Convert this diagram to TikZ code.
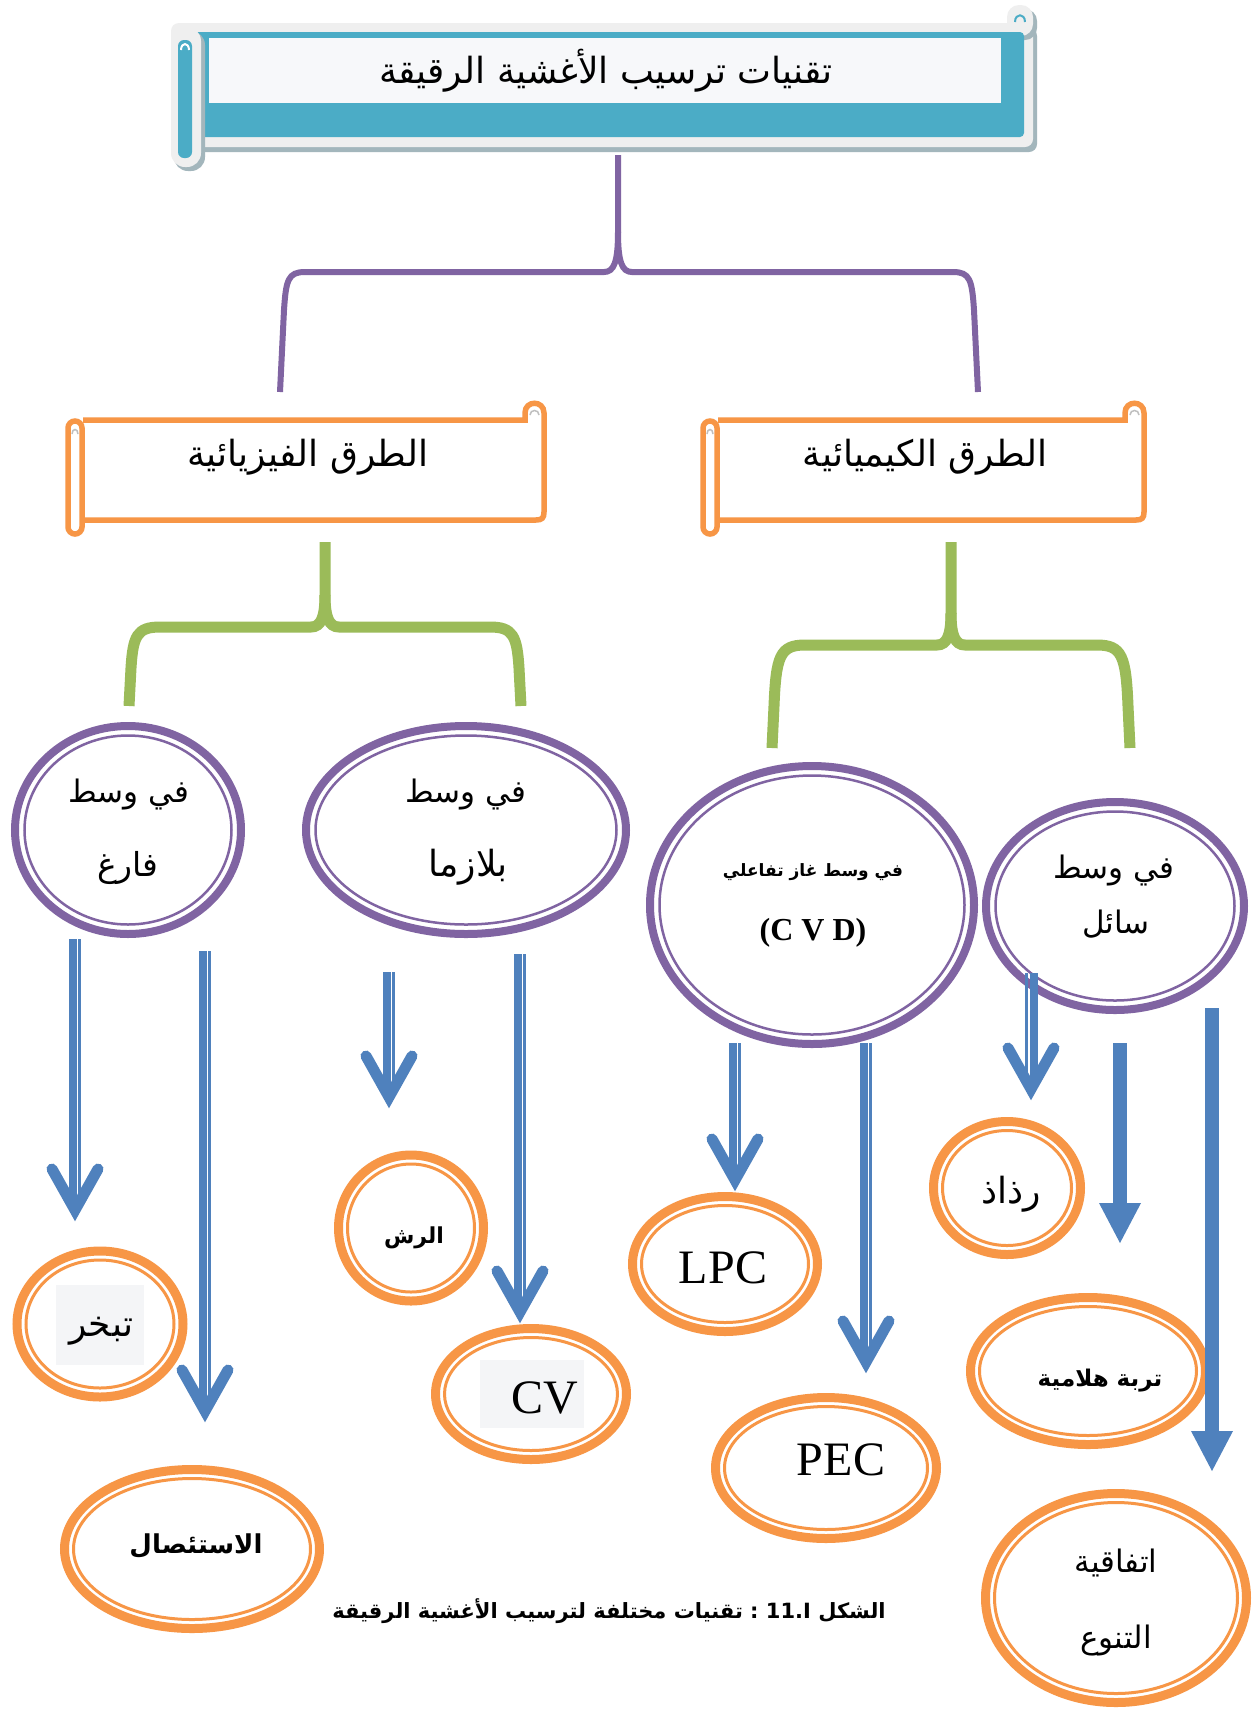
\documentclass[tikz,border=0pt]{standalone}
\usepackage{fontspec}
\usetikzlibrary{shapes.geometric}
\setmainfont{Liberation Serif}
\newfontfamily\arf[Script=Arabic]{DejaVu Sans}
\TeXXeTstate=1
\definecolor{purp}{HTML}{8064A2}
\definecolor{orng}{HTML}{F79646}
\definecolor{blu}{HTML}{4F81BD}
\definecolor{grn}{HTML}{9BBB59}
\definecolor{tealc}{HTML}{4BACC6}
\definecolor{lightc}{HTML}{EFEFEF}
\definecolor{shadc}{HTML}{A3B6BC}
\definecolor{innerw}{HTML}{F7F8FA}
\definecolor{boxg}{HTML}{F4F5F7}
\definecolor{curlg}{HTML}{BFBFBF}
\newcommand\pring[5]{%
  \node[pell, minimum width={2*#4 pt}, minimum height={2*#5 pt}] (#1) at (#2,#3) {};
  \draw[purp, line width=2.5pt] (#1.center) ellipse [x radius={#4pt-9.5pt}, y radius={#5pt-9.5pt}];}
\newcommand\oring[5]{%
  \node[oell, minimum width={2*#4 pt}, minimum height={2*#5 pt}] (#1) at (#2,#3) {};
  \draw[orng, line width=3pt] (#1.center) ellipse [x radius={#4pt-9pt}, y radius={#5pt-9pt}];}
\newcommand\dblarrow[4]{%
  \draw[blu, line width=8pt] ([xshift=#3pt]#1) -- ([shift={(#3pt,14pt)}]#2);
  \draw[blu, line width=3pt] ([xshift=#4pt]#1) -- ([shift={(#4pt,14pt)}]#2);
  \draw[chev] ([shift={(-23pt,53pt)}]#2) -- ([yshift=12pt]#2) -- ([shift={(23pt,53pt)}]#2);}
\newcommand\solarrow[2]{%
  \draw[blu, line width=14pt] (#1) -- ([yshift=38pt]#2);
  \fill[blu] ([shift={(-21pt,40pt)}]#2) -- (#2) -- ([shift={(21pt,40pt)}]#2) -- cycle;}
\begin{document}
\begin{tikzpicture}[x=1pt,y=-1pt,
  pell/.style={ellipse, draw=purp, line width=8pt, inner sep=0pt},
  oell/.style={ellipse, draw=orng, line width=9pt, inner sep=0pt},
  chev/.style={draw=blu, line width=11pt, line cap=round, line join=miter},
  oline/.style={draw=orng, line width=5.5pt},
  pbrace/.style={draw=purp, line width=6pt},
  gbrace/.style={draw=grn, line width=11pt},
  tx/.style={font={\arf\fontsize{#1}{#1}\selectfont}, anchor=base, inner sep=0pt},
  txb/.style={font={\arf\fontsize{#1}{#1}\selectfont\bfseries}, anchor=base, inner sep=0pt},
  lt/.style={font={\fontsize{#1}{#1}\selectfont}, anchor=base, inner sep=0pt}]
\useasboundingbox (0,0) rectangle (1253,1709);
\fill[white] (0,0) rectangle (1253,1709);

% ---------- title scroll ----------
\fill[shadc, rounded corners=8pt] (175,28) rectangle (1037,152);
\fill[lightc, rounded corners=8pt] (171,23) rectangle (1033,147);
\fill[shadc, rounded corners=12pt] (1010,9) rectangle (1037,40);
\fill[lightc, rounded corners=12pt] (1007,5) rectangle (1033,36);
\fill[tealc, rounded corners=4pt] (194,32) rectangle (1024,137);
\fill[shadc, rounded corners=14pt] (174,31) rectangle (205,171);
\fill[lightc, rounded corners=14pt] (171,27) rectangle (201,167);
\fill[tealc, rounded corners=6pt] (178,40) rectangle (192,158);
\draw[white, line width=2pt] (181,50) .. controls (181,42) and (189,42) .. (189,50);
\draw[tealc, line width=2pt] (1015,22) .. controls (1015,13) and (1025,13) .. (1025,22);
\fill[innerw] (209,38) rectangle (1001,103);
\node[tx=36] (title) at (606,83) {\beginR تقنيات ترسيب الأغشية الرقيقة\endR};

% ---------- orange scrolls ----------
\draw[oline] (83,420) -- (525,420) -- (525,413) .. controls (525,400) and (544,400) .. (544,413) -- (544,512) .. controls (544,518) and (542,520) .. (536,520) -- (83,520);
\draw[oline, fill=white, rounded corners=7pt] (68,421) rectangle (82,534);
\draw[curlg, line width=1.5pt] (72,434) .. controls (72,428) and (78,428) .. (78,434);
\draw[curlg, line width=1.5pt] (530,415) .. controls (530,409) and (539,409) .. (539,415);
\node[tx=36] (phys) at (308,466) {\beginR الطرق الفيزيائية\endR};

\draw[oline] (718,420) -- (1125,420) -- (1125,413) .. controls (1125,400) and (1144,400) .. (1144,413) -- (1144,512) .. controls (1144,518) and (1142,520) .. (1136,520) -- (718,520);
\draw[oline, fill=white, rounded corners=7pt] (703,421) rectangle (717,534);
\draw[curlg, line width=1.5pt] (707,434) .. controls (707,428) and (713,428) .. (713,434);
\draw[curlg, line width=1.5pt] (1130,415) .. controls (1130,409) and (1139,409) .. (1139,415);
\node[tx=36] (chem) at (925,466) {\beginR الطرق الكيميائية\endR};

% ---------- braces ----------
\coordinate (pt0) at (618,155);
\coordinate (pL) at (280,392);
\coordinate (pR) at (978,392);
\draw[pbrace] (pL) -- (284,310) .. controls (286,280) and (288,272) .. (305,272) -- (604,272) .. controls (614,272) and (618,262) .. (618,232) -- (pt0);
\draw[pbrace] (pR) -- (974,310) .. controls (972,280) and (970,272) .. (953,272) -- (632,272) .. controls (622,272) and (618,262) .. (618,232);

\coordinate (g1t) at (325,542);
\coordinate (g1L) at (129,706);
\coordinate (g1R) at (521,706);
\draw[gbrace] (g1L) -- (131,668) .. controls (133,636) and (137,627) .. (160,627) -- (311,627) .. controls (321,627) and (325,617) .. (325,595) -- (g1t);
\draw[gbrace] (g1R) -- (519,668) .. controls (517,636) and (513,627) .. (490,627) -- (339,627) .. controls (329,627) and (325,617) .. (325,595);

\coordinate (g2t) at (951,542);
\coordinate (g2L) at (772,748);
\coordinate (g2R) at (1130,748);
\draw[gbrace] (g2L) -- (774,706) .. controls (776,656) and (780,645) .. (805,645) -- (937,645) .. controls (947,645) and (951,635) .. (951,613) -- (g2t);
\draw[gbrace] (g2R) -- (1128,706) .. controls (1126,656) and (1122,645) .. (1097,645) -- (965,645) .. controls (955,645) and (951,635) .. (951,613);

% ---------- purple ellipses ----------
\pring{vac}{128}{830}{113}{104}
\pring{pla}{466}{830}{160}{104}
\pring{cvd}{812}{905}{162}{139}
\pring{liq}{1115}{906}{129}{104}
\node[tx=31] (vac1) at (129,802) {\beginR في وسط\endR};
\node[tx=33] (vac2) at (128,876) {\beginR فارغ\endR};
\node[tx=31] (pla1) at (466,802) {\beginR في وسط\endR};
\node[tx=36] (pla2) at (468,876) {\beginR بلازما\endR};
\node[txb=17] (cvd1) at (813,876) {\beginR في وسط غاز تفاعلي\endR};
\node[lt=32, font={\fontsize{32}{32}\selectfont\bfseries}] (cvd2) at (813,940) {(C V D)};
\node[tx=31] (liq1) at (1114,878) {\beginR في وسط\endR};
\node[tx=31] (liq2) at (1116,933) {\beginR سائل\endR};

% ---------- orange ellipses ----------
\oring{evap}{100}{1324}{83}{73}
\oring{abl}{192}{1549}{127.5}{79.5}
\oring{spr}{411}{1228}{72.5}{73}
\oring{cvo}{531}{1394}{95.5}{65.5}
\oring{lpc}{725}{1264}{92.5}{67.5}
\oring{pec}{826}{1468}{110.5}{70.5}
\oring{mist}{1007}{1188}{73.5}{66.5}
\oring{gel}{1088}{1371}{117.5}{73.5}
\oring{epi}{1116}{1598}{130.5}{104.5}
\fill[boxg] (56,1285) rectangle (144,1365);
\fill[boxg] (480,1360) rectangle (584,1428);
\node[tx=36] (evapt) at (101,1336) {\beginR تبخر\endR};
\node[txb=26] (ablt) at (196,1553) {\beginR الاستئصال\endR};
\node[txb=22] (sprt) at (414,1243) {\beginR الرش\endR};
\node[lt=48] (cvt) at (545,1413) {CV};
\node[lt=48] (lpct) at (723,1283) {LPC};
\node[lt=48] (pect) at (841,1475) {PEC};
\node[tx=36] (mistt) at (1011,1203) {\beginR رذاذ\endR};
\node[txb=23] (gelt) at (1100,1386) {\beginR تربة هلامية\endR};
\node[tx=31] (epi1) at (1116,1572) {\beginR اتفاقية\endR};
\node[tx=31] (epi2) at (1116,1648) {\beginR التنوع\endR};

% ---------- arrows ----------
\coordinate (a1s) at (75,939);   \coordinate (a1e) at (75,1222);
\coordinate (a2s) at (205,951);  \coordinate (a2e) at (205,1423);
\coordinate (a3s) at (389,972);  \coordinate (a3e) at (389,1109);
\coordinate (a4s) at (520,954);  \coordinate (a4e) at (520,1324);
\coordinate (a5s) at (735,1043); \coordinate (a5e) at (735,1192);
\coordinate (a6s) at (866,1043); \coordinate (a6e) at (866,1374);
\coordinate (a7s) at (1031,973); \coordinate (a7e) at (1031,1101);
\coordinate (a8s) at (1120,1043); \coordinate (a8e) at (1120,1243);
\coordinate (a9s) at (1212,1008); \coordinate (a9e) at (1212,1471);
\dblarrow{a1s}{a1e}{-2.5}{4.5}
\dblarrow{a2s}{a2e}{-2.5}{4.5}
\dblarrow{a3s}{a3e}{-2.5}{4.5}
\dblarrow{a4s}{a4e}{-2.5}{4.5}
\dblarrow{a5s}{a5e}{-2.5}{4.5}
\dblarrow{a6s}{a6e}{-2.5}{4.5}
\dblarrow{a7s}{a7e}{2.5}{-4.5}
\solarrow{a8s}{a8e}
\solarrow{a9s}{a9e}

% ---------- caption ----------
\node[txb=21] (cap) at (609,1618) {\beginR الشكل \beginL 11.I\endL{} : تقنيات مختلفة لترسيب الأغشية الرقيقة\endR};
\end{tikzpicture}
\end{document}
